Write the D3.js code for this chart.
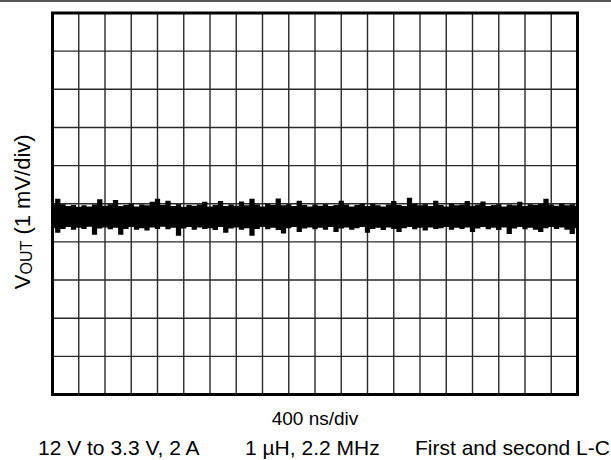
<!DOCTYPE html>
<html>
<head>
<meta charset="utf-8">
<script src="https://cdn.jsdelivr.net/npm/d3@7"></script>
<style>
  html, body { margin: 0; padding: 0; background: #fff; }
  svg { display: block; }
  text { font-family: "Liberation Sans", Arial, Helvetica, sans-serif; fill: #000; }
</style>
</head>
<body>
<svg id="chart" width="611" height="460"></svg>
<script>
// ---- data ----
const timeDivs = 20;          // horizontal divisions
const nsPerDiv = 400;         // 400 ns/div
const voltDivs = 10;          // vertical divisions
const mVPerDiv = 1;           // 1 mV/div
const sampleStepNs = 80;      // envelope sample spacing

// upper envelope of the ripple trace (mV, relative to centre graticule line)
const upperEnv = [
  -0.02, 0.13, -0.01, -0.06, -0.03, -0.08, -0.04, -0.07, -0.02, 0.12,
  -0.05, -0.01, 0.10, -0.06, -0.03, 0.00, -0.07, -0.02, -0.04, 0.05,
  0.13, -0.03, 0.08, -0.06, -0.01, -0.08, -0.03, -0.05, -0.02, 0.05,
  -0.07, -0.03, 0.07, -0.06, -0.02, -0.05, 0.06, -0.04, 0.13, -0.02,
  -0.07, 0.00, -0.03, 0.14, -0.04, -0.01, -0.06, 0.08, -0.03, -0.07,
  -0.02, -0.05, -0.01, -0.06, -0.03, 0.08, -0.02, -0.07, -0.03, 0.00,
  -0.06, 0.00, -0.04, -0.07, -0.02, 0.07, -0.03, -0.06, 0.16, 0.00,
  -0.04, -0.01, -0.06, 0.08, -0.03, -0.07, 0.00, -0.04, -0.02, 0.07,
  -0.05, -0.02, 0.06, -0.06, -0.03, -0.01, -0.07, -0.02, -0.04, 0.05,
  -0.06, -0.01, -0.03, 0.00, 0.13, -0.02, -0.05, 0.00, -0.04, -0.01,
  -0.05
];
// lower envelope of the ripple trace (mV)
const lowerEnv = [
  -0.64, -0.76, -0.66, -0.61, -0.68, -0.63, -0.66, -0.60, -0.81, -0.65,
  -0.62, -0.67, -0.63, -0.81, -0.66, -0.61, -0.68, -0.64, -0.70, -0.62,
  -0.66, -0.60, -0.67, -0.63, -0.84, -0.65, -0.61, -0.68, -0.62, -0.66,
  -0.64, -0.69, -0.61, -0.76, -0.65, -0.62, -0.68, -0.64, -0.84, -0.66,
  -0.61, -0.67, -0.63, -0.69, -0.78, -0.64, -0.61, -0.74, -0.65, -0.62,
  -0.67, -0.63, -0.68, -0.61, -0.74, -0.65, -0.62, -0.68, -0.64, -0.61,
  -0.76, -0.66, -0.63, -0.69, -0.62, -0.66, -0.74, -0.64, -0.61, -0.67,
  -0.63, -0.70, -0.62, -0.66, -0.64, -0.61, -0.68, -0.63, -0.66, -0.62,
  -0.74, -0.65, -0.61, -0.67, -0.63, -0.69, -0.62, -0.79, -0.65, -0.61,
  -0.67, -0.63, -0.68, -0.74, -0.64, -0.61, -0.66, -0.62, -0.68, -0.79,
  -0.64
];

const yLabelMain = "V";
const yLabelSub = "OUT";
const yLabelRest = " (1 mV/div)";
const xLabel = "400 ns/div";
const notes = ["12 V to 3.3 V, 2 A", "1 µH, 2.2 MHz", "First and second L-C"];

// ---- layout ----
const svg = d3.select("#chart");
const plot = { left: 52.5, right: 577.5, top: 13, bottom: 394.5 };

const x = d3.scaleLinear()
  .domain([0, timeDivs * nsPerDiv])
  .range([plot.left, plot.right]);
const y = d3.scaleLinear()
  .domain([-voltDivs / 2 * mVPerDiv, voltDivs / 2 * mVPerDiv])
  .range([plot.bottom, plot.top]);

// top rule across page
svg.append("line")
  .attr("x1", 0).attr("x2", 611)
  .attr("y1", 1).attr("y2", 1)
  .attr("stroke", "#555").attr("stroke-width", 2);

// grid
const g = svg.append("g");
const xTicks = d3.range(1, timeDivs).map(i => i * nsPerDiv);
const yTicks = d3.range(1, voltDivs).map(i => (i - voltDivs / 2) * mVPerDiv);

g.selectAll("line.v").data(xTicks).join("line")
  .attr("class", "v")
  .attr("x1", d => x(d)).attr("x2", d => x(d))
  .attr("y1", plot.top).attr("y2", plot.bottom)
  .attr("stroke", "#2a2a2a").attr("stroke-width", 1.4);

g.selectAll("line.h").data(yTicks).join("line")
  .attr("class", "h")
  .attr("x1", plot.left).attr("x2", plot.right)
  .attr("y1", d => y(d)).attr("y2", d => y(d))
  .attr("stroke", "#2a2a2a").attr("stroke-width", 1.4);

// trace
const traceData = upperEnv.map((u, i) => ({ t: i * sampleStepNs, hi: u, lo: lowerEnv[i] }));
const area = d3.area()
  .x(d => x(d.t))
  .y0(d => y(d.lo))
  .y1(d => y(d.hi))
  .curve(d3.curveStep);
svg.append("path")
  .datum(traceData)
  .attr("d", area)
  .attr("fill", "#000")
  .attr("stroke", "none");

// frame
svg.append("rect")
  .attr("x", plot.left).attr("y", plot.top)
  .attr("width", plot.right - plot.left)
  .attr("height", plot.bottom - plot.top)
  .attr("fill", "none")
  .attr("stroke", "#000")
  .attr("stroke-width", 3);

// y label
const yl = svg.append("text")
  .attr("transform", `translate(30,${(plot.top + plot.bottom) / 2 + 8}) rotate(-90)`)
  .attr("text-anchor", "middle")
  .attr("font-size", 22);
yl.append("tspan").text(yLabelMain);
yl.append("tspan").attr("font-size", 16).attr("dy", 2).text(yLabelSub);
yl.append("tspan").attr("dy", -2).text(yLabelRest);

// x label
svg.append("text")
  .attr("x", (plot.left + plot.right) / 2)
  .attr("y", 425)
  .attr("text-anchor", "middle")
  .attr("font-size", 19)
  .text(xLabel);

// notes
const noteX = [38, 245, 415];
svg.selectAll("text.note").data(notes).join("text")
  .attr("class", "note")
  .attr("x", (d, i) => noteX[i])
  .attr("y", 455)
  .attr("font-size", 21)
  .text(d => d);
</script>
</body>
</html>
